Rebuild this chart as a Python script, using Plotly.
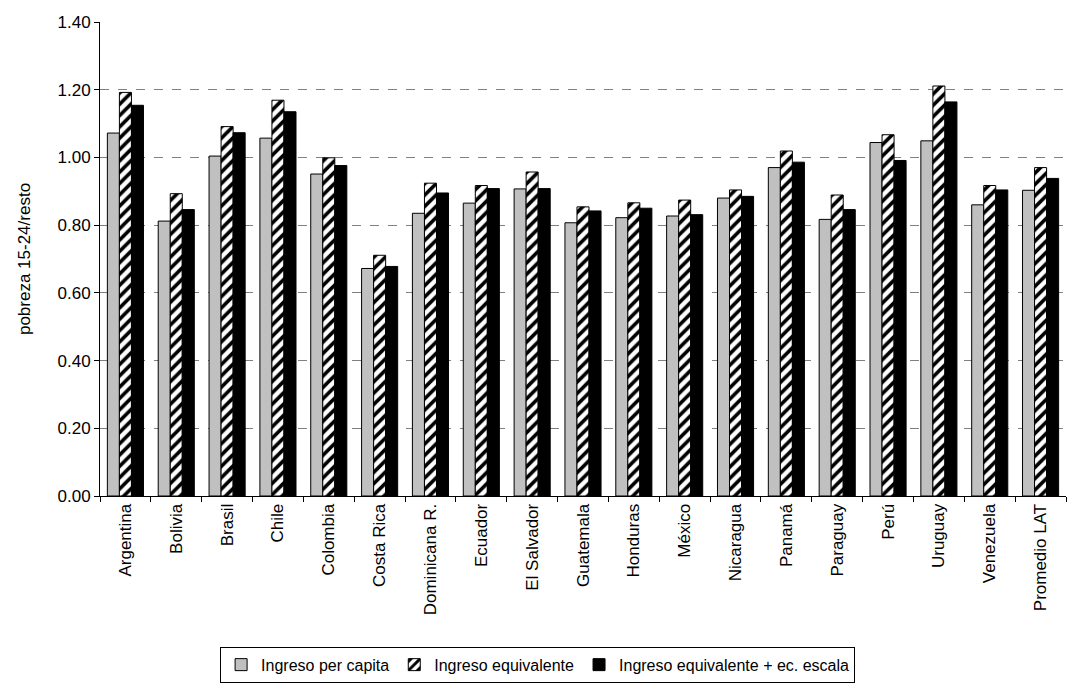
import plotly.graph_objects as go

categories = ["Argentina", "Bolivia", "Brasil", "Chile", "Colombia", "Costa Rica",
              "Dominicana R.", "Ecuador", "El Salvador", "Guatemala", "Honduras",
              "México", "Nicaragua", "Panamá", "Paraguay", "Perú", "Uruguay",
              "Venezuela", "Promedio LAT"]

per_capita = [1.072, 0.812, 1.004, 1.057, 0.951, 0.672, 0.835, 0.865, 0.907, 0.807,
              0.822, 0.827, 0.880, 0.970, 0.817, 1.044, 1.049, 0.860, 0.903]
equivalente = [1.192, 0.893, 1.091, 1.169, 0.999, 0.711, 0.924, 0.917, 0.957, 0.854,
               0.866, 0.874, 0.904, 1.019, 0.889, 1.067, 1.211, 0.917, 0.970]
equiv_escala = [1.154, 0.846, 1.073, 1.135, 0.976, 0.678, 0.895, 0.908, 0.908, 0.842,
                0.850, 0.831, 0.885, 0.986, 0.846, 0.991, 1.164, 0.904, 0.938]

series_names = ["Ingreso per capita", "Ingreso equivalente",
                "Ingreso equivalente + ec. escala"]

FONT = "Liberation Sans, Arial, sans-serif"

fig = go.Figure()
fig.add_trace(go.Bar(
    x=categories, y=per_capita, name=series_names[0],
    marker=dict(color="#C0C0C0", line=dict(color="black", width=1)),
))
fig.add_trace(go.Bar(
    x=categories, y=equivalente, name=series_names[1],
    marker=dict(color="white", line=dict(color="black", width=1),
                pattern=dict(shape="/", fgcolor="black", bgcolor="white",
                             size=8, solidity=0.45, fillmode="replace")),
))
fig.add_trace(go.Bar(
    x=categories, y=equiv_escala, name=series_names[2],
    marker=dict(color="black", line=dict(color="black", width=1)),
))

fig.update_layout(
    width=1075, height=700,
    margin=dict(l=100, r=9, t=22, b=204),
    paper_bgcolor="white", plot_bgcolor="white",
    barmode="group", bargap=0.29, bargroupgap=0,
    font=dict(family=FONT, size=17, color="black"),
    showlegend=True,
    legend=dict(orientation="h", x=0.453, xanchor="center", y=-0.318, yanchor="top",
                bordercolor="black", borderwidth=1, font=dict(size=16),
                itemwidth=30, tracegroupgap=0),
)

fig.update_yaxes(
    range=[0, 1.4], dtick=0.2, tickformat=".2f",
    showgrid=True, gridcolor="#808080", griddash="dash", gridwidth=1,
    showline=True, linecolor="black", linewidth=1,
    ticks="outside", ticklen=5, tickcolor="black",
    zeroline=False,
    title=dict(text="pobreza 15-24/resto", font=dict(size=17), standoff=22),
    tickfont=dict(size=17),
)
fig.update_xaxes(
    type="category", tickangle=-90,
    showline=True, linecolor="black", linewidth=1,
    ticks="outside", ticklen=5, tickcolor="black", tickson="boundaries",
    showgrid=False, tickfont=dict(size=17),
)

fig.write_html("out.html")
